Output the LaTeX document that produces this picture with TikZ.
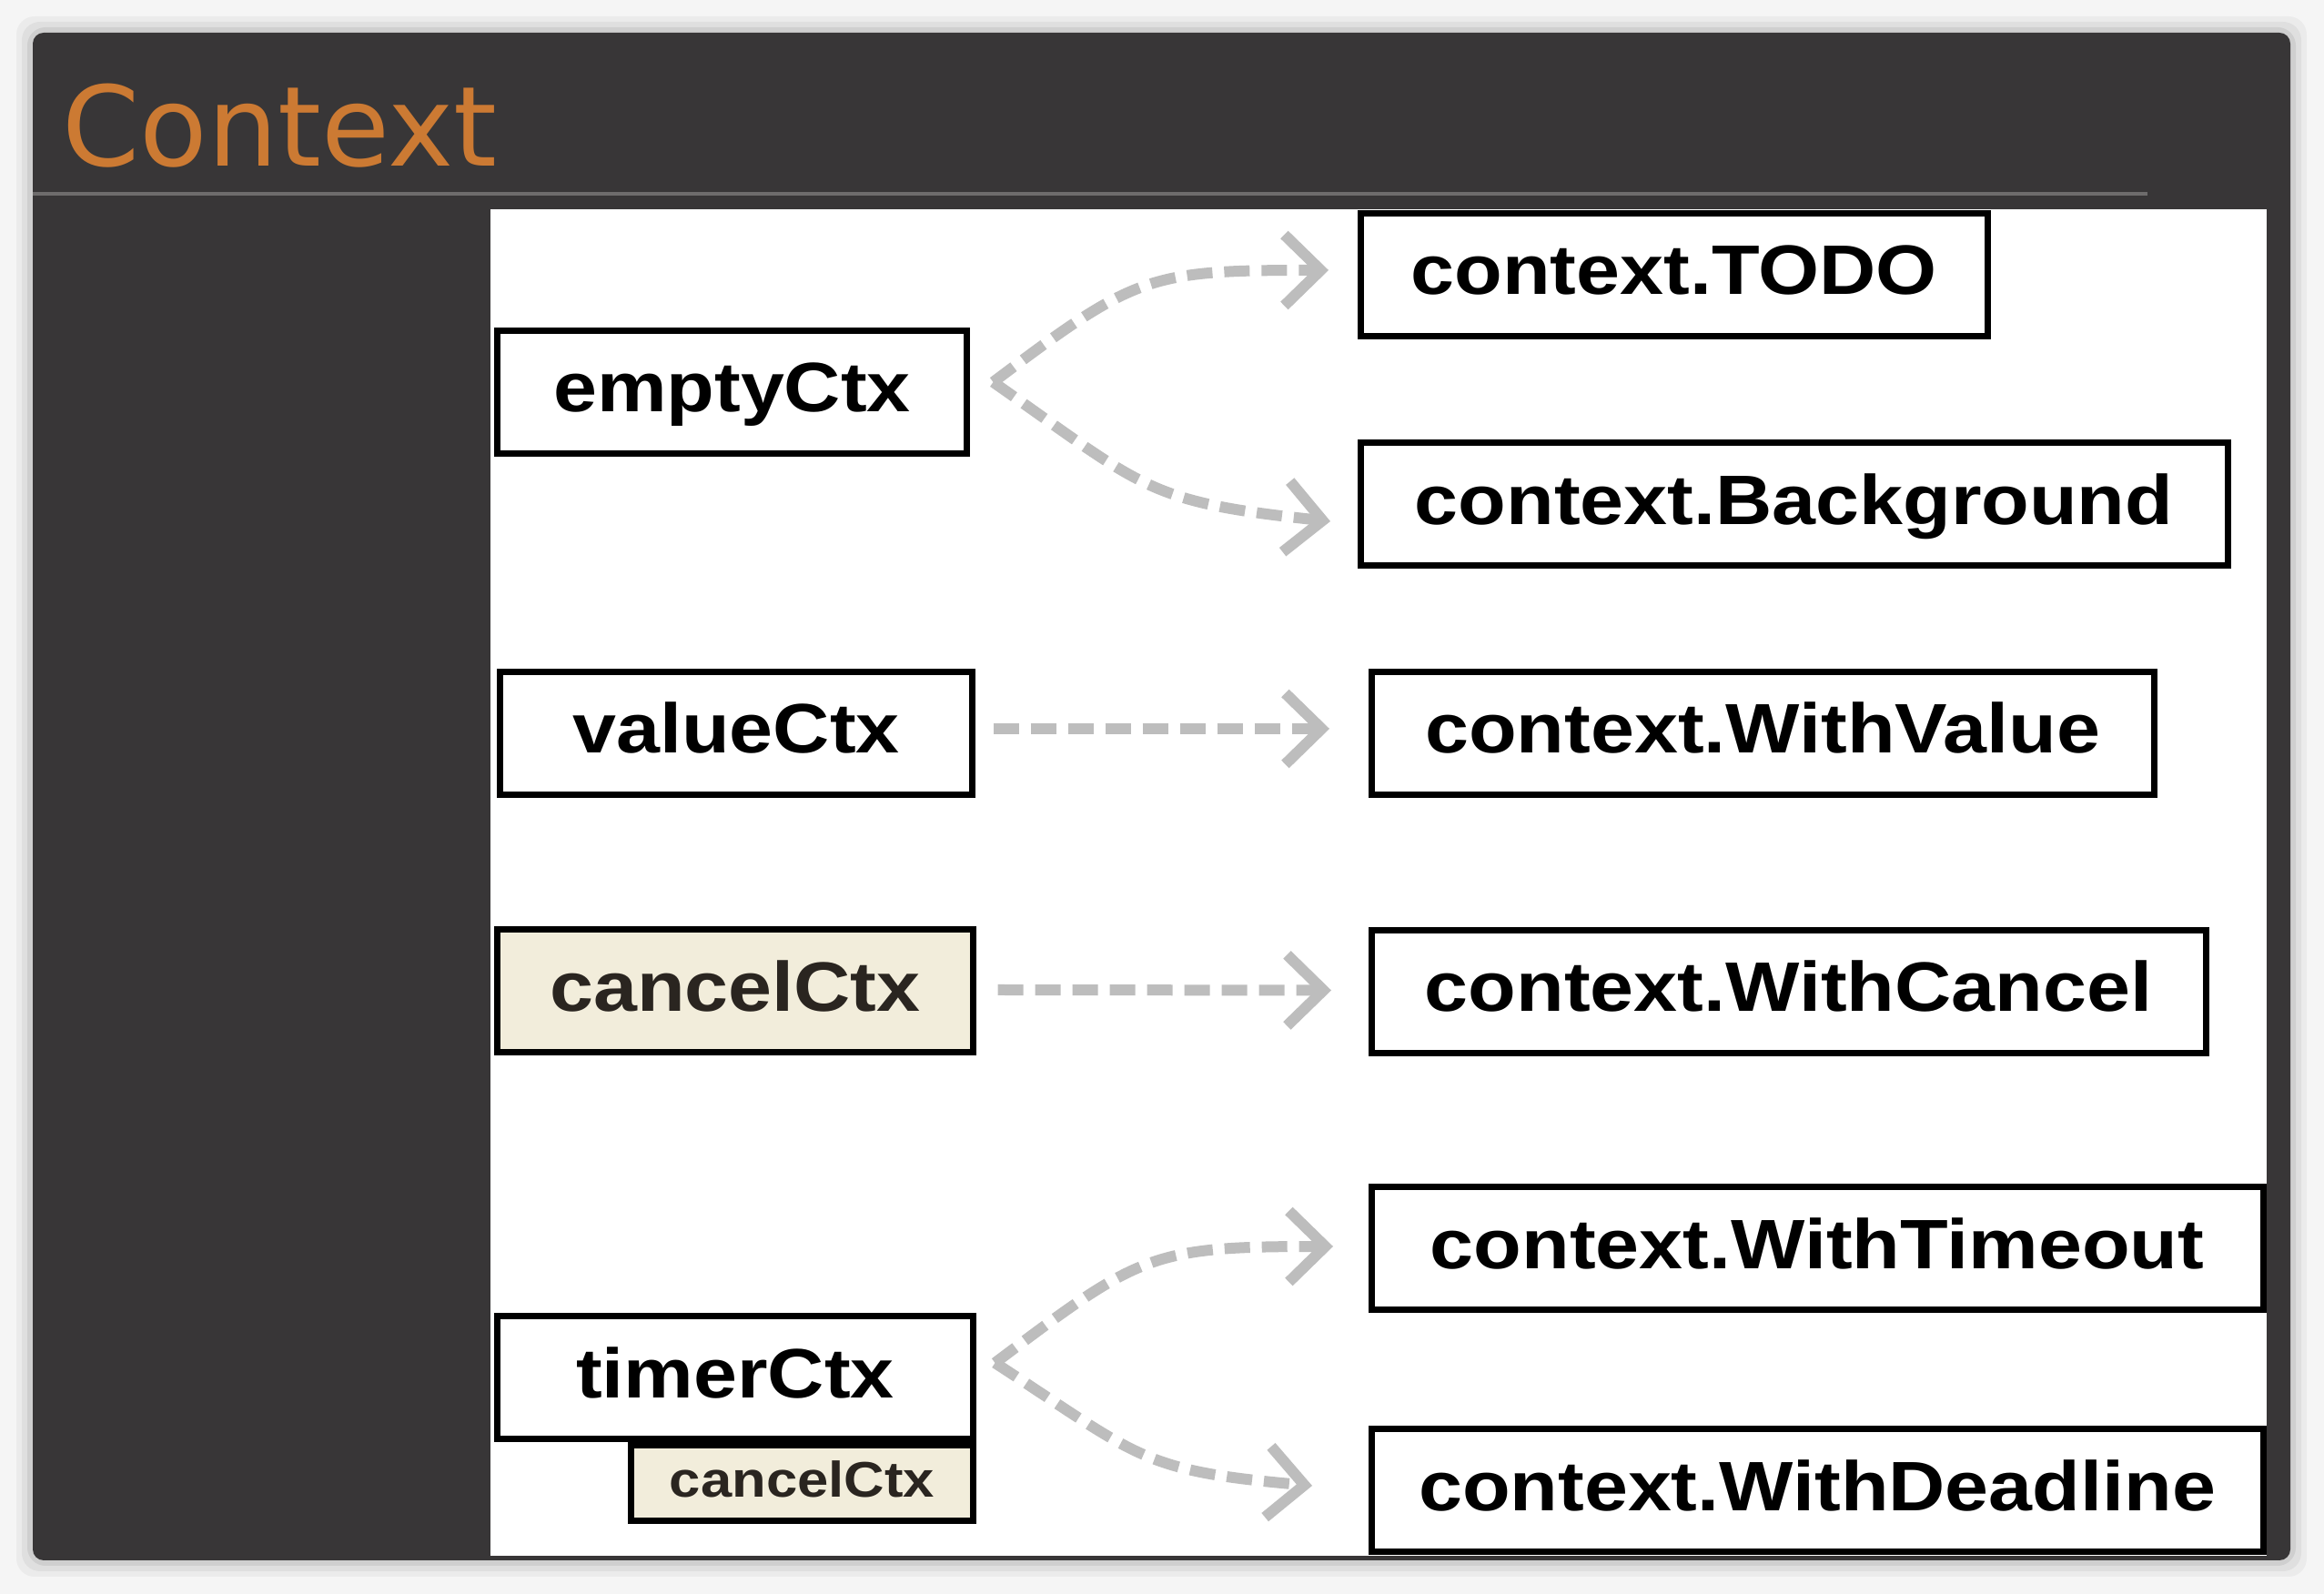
\documentclass[tikz,border=0pt]{standalone}
\usepackage{fontspec}
\usepackage{xcolor}
\definecolor{slidedark}{HTML}{383637}
\definecolor{slideorange}{HTML}{CC7A33}
\definecolor{slidebar}{HTML}{6E6C6C}
\definecolor{pagegrey}{HTML}{F5F5F5}
\definecolor{cancelfill}{HTML}{F2EDDB}
\definecolor{cancelink}{HTML}{2A2520}
\definecolor{flowgrey}{HTML}{BDBDBD}
\newfontfamily\titlefont{DejaVu Sans}
\newfontfamily\boxfont[FakeStretch=1.12]{Liberation Sans}
\usetikzlibrary{arrows.meta,positioning,calc}

\begin{document}
\begin{tikzpicture}[
  ctx/.style={rectangle, draw=black, line width=0.07cm, fill=white, inner sep=0pt,
              minimum height=1.35cm, text height=0.6cm, text depth=0.16cm,
              font=\boxfont\bfseries\fontsize{21.9pt}{24pt}\selectfont},
  canc/.style={fill=cancelfill, text=cancelink},
  mini/.style={rectangle, draw=black, line width=0.07cm, fill=cancelfill, text=cancelink,
               inner sep=0pt, minimum height=0.83cm, text height=0.43cm, text depth=0.12cm,
               font=\boxfont\bfseries\fontsize{15.65pt}{18pt}\selectfont},
  api/.style={anchor=west},
  flow/.style={draw=flowgrey, line width=0.12cm, dash pattern=on 0.28cm off 0.13cm,
               -{Straight Barb[length=0.4cm, width=0.78cm]}},
  title/.style={inner sep=0pt, text=slideorange,
                font=\titlefont\fontsize{34.7pt}{40pt}\selectfont},
]
\useasboundingbox (0,0) rectangle (25.54,17.52);

% ---------- slide background
\fill[pagegrey] (0,0) rectangle (25.54,17.52);
\foreach \d/\o in {0.18/0.04,0.12/0.05,0.06/0.07}
  \fill[black, opacity=\o, rounded corners=0.2cm] ({0.36-\d},{0.37-\d}) rectangle ({25.17+\d},{17.16+\d});
\fill[slidedark, rounded corners=0.12cm] (0.36,0.37) rectangle (25.17,17.16);
\draw[slidebar, line width=0.045cm] (0.36,15.39) -- (23.60,15.39);
\fill[white] (5.39,0.42) rectangle (24.91,15.22);
\node[title, anchor=base west] (heading) at (0.68,15.69) {Context};

% ---------- internal context types
\node[ctx, minimum width=5.16cm] (empty) at (8.045,13.21) {emptyCtx};
\node[ctx, minimum width=5.19cm] (value) at (8.09,9.46)   {valueCtx};
\node[ctx, canc, minimum width=5.23cm] (cancel) at (8.08,6.625) {cancelCtx};
\node[ctx, minimum width=5.23cm] (timer) at (8.08,2.375)  {timerCtx};
\node[mini, minimum width=3.76cm, anchor=north east] (timercancel) at (timer.south east) {cancelCtx};

% ---------- exported constructors
\node[ctx, api, minimum width=6.89cm] (todo)         at (14.915,14.50) {context.TODO};
\node[ctx, api, minimum width=9.53cm] (background)   at (14.915,11.975) {context.Background};
\node[ctx, api, minimum width=8.60cm] (withvalue)    at (15.035,9.46)  {context.WithValue};
\node[ctx, api, minimum width=9.17cm] (withcancel)   at (15.035,6.62)  {context.WithCancel};
\node[ctx, api, minimum width=9.80cm] (withtimeout)  at (15.035,3.795) {context.WithTimeout};
\node[ctx, api, minimum width=9.80cm] (withdeadline) at (15.035,1.135) {context.WithDeadline};

% ---------- which type each constructor returns
\draw[flow] ([xshift=0.255cm,yshift=0.11cm]empty.east) to[out=37,in=180,looseness=1.3]
  ([xshift=-0.315cm,yshift=0.05cm]todo.west);
\draw[flow] ([xshift=0.255cm,yshift=0.11cm]empty.east) to[out=-35,in=174,looseness=1.3]
  ([xshift=-0.295cm,yshift=-0.185cm]background.west);
\draw[flow] ([xshift=0.195cm,yshift=0.05cm]value.east) -- ([xshift=-0.425cm,yshift=0.05cm]withvalue.west);
\draw[flow] ([xshift=0.235cm,yshift=0.015cm]cancel.east) -- ([xshift=-0.405cm,yshift=0.015cm]withcancel.west);
\draw[flow] ([xshift=0.205cm,yshift=0.165cm]timer.east) to[out=37,in=180,looseness=1.3]
  ([xshift=-0.385cm,yshift=0.025cm]withtimeout.west);
\draw[flow] ([xshift=0.205cm,yshift=0.165cm]timer.east) to[out=-33,in=175,looseness=1.3]
  ([xshift=-0.615cm,yshift=0.055cm]withdeadline.west);
\end{tikzpicture}
\end{document}
